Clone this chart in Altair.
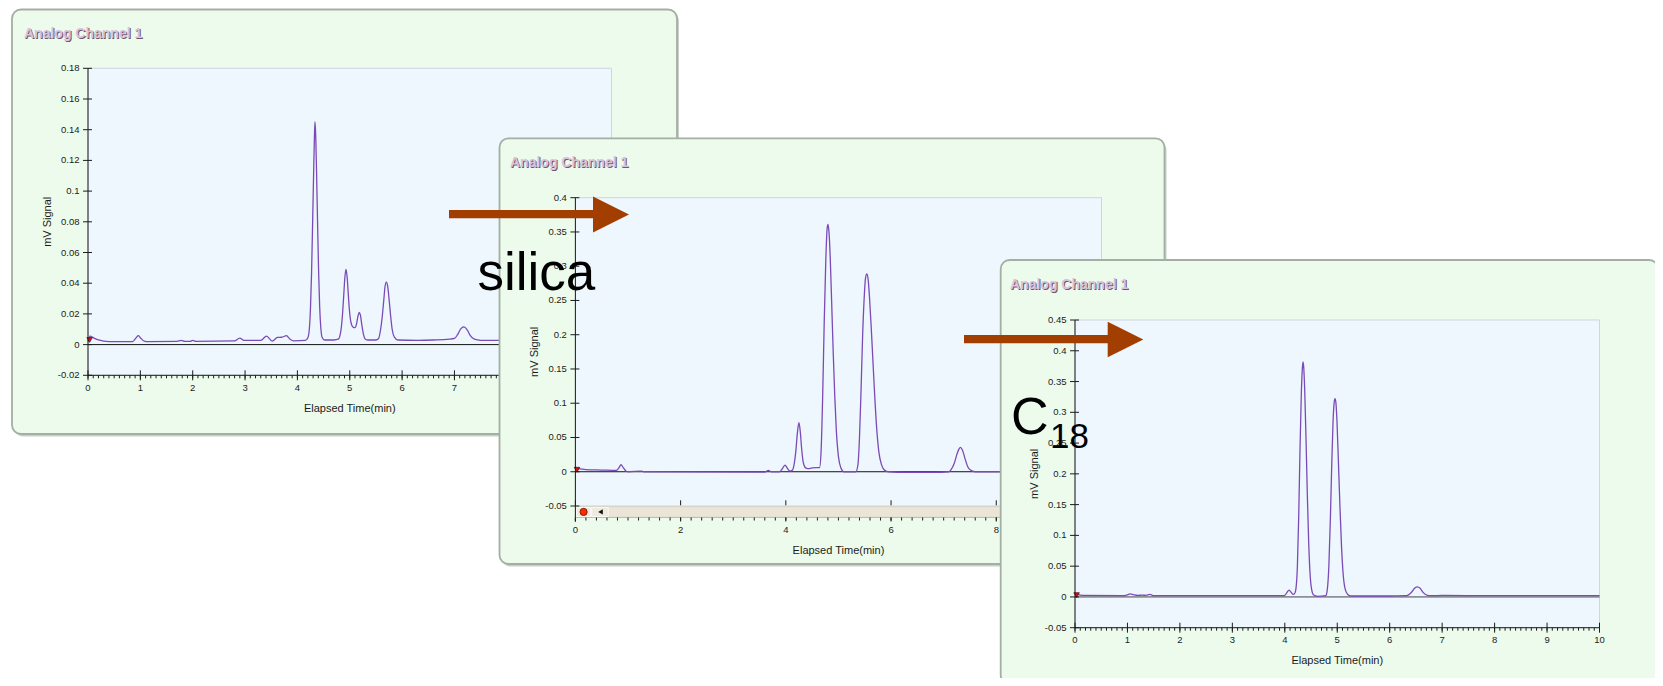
import altair as alt
import pandas as pd

# ---------------- values ----------------
# Panel 1 (top-left)
P1_TIME = [0.0, 0.04, 0.1, 0.2, 0.4, 0.85, 0.92, 0.96, 1.0, 1.06, 1.12, 1.7, 1.78, 1.85, 1.95,
           2.0, 2.06, 2.8, 2.9, 2.98, 3.3, 3.41, 3.52, 3.62, 3.7, 3.79, 3.86, 3.93, 4.15,
           4.2, 4.23, 4.25, 4.27, 4.29, 4.31, 4.325, 4.336, 4.35, 4.365, 4.385, 4.405, 4.425,
           4.445, 4.47, 4.52, 4.7, 4.78, 4.83, 4.86, 4.885, 4.905, 4.928, 4.95, 4.97, 4.99,
           5.02, 5.06, 5.1, 5.13, 5.16, 5.183, 5.205, 5.23, 5.26, 5.3, 5.35, 5.5, 5.55, 5.59,
           5.62, 5.65, 5.675, 5.699, 5.725, 5.75, 5.78, 5.81, 5.85, 5.92, 6.3, 6.6, 6.9, 7.0,
           7.06, 7.12, 7.18, 7.24, 7.3, 7.38, 7.5, 8.0]
P1_SIGNAL = [0.002, 0.0055, 0.0045, 0.003, 0.002, 0.002, 0.0045, 0.0058, 0.0045, 0.0025, 0.002,
             0.0021, 0.0027, 0.0021, 0.0021, 0.0027, 0.0021, 0.0024, 0.0042, 0.0027, 0.0027,
             0.0055, 0.0022, 0.0047, 0.0048, 0.0058, 0.0035, 0.0024, 0.0027,
             0.0045, 0.011, 0.024, 0.046, 0.078, 0.112, 0.135, 0.1452, 0.136, 0.114, 0.08,
             0.048, 0.025, 0.012, 0.005, 0.003, 0.003, 0.0035, 0.009, 0.019, 0.032, 0.043,
             0.049, 0.044, 0.034, 0.024, 0.015, 0.0115, 0.011, 0.0135, 0.019, 0.021, 0.019,
             0.013, 0.007, 0.0035, 0.003, 0.003, 0.004, 0.01, 0.018, 0.029, 0.038, 0.0407,
             0.038, 0.03, 0.019, 0.01, 0.005, 0.003, 0.0028, 0.003, 0.0035, 0.004, 0.0065,
             0.0102, 0.0116, 0.0098, 0.006, 0.0035, 0.0028, 0.0028]

# Panel 2 (silica)
P2_TIME = [0.0, 0.05, 0.2, 0.5, 0.78, 0.83, 0.866, 0.91, 0.96, 1.0, 1.25, 1.3, 3.6, 3.667, 3.72,
           3.88, 3.93, 3.983, 4.03, 4.075, 4.12, 4.16, 4.19, 4.22, 4.249, 4.275, 4.3, 4.33,
           4.37, 4.42, 4.5, 4.58, 4.64, 4.67, 4.7, 4.73, 4.76, 4.785, 4.8, 4.82, 4.845, 4.87,
           4.9, 4.93, 4.96, 5.0, 5.05, 5.1, 5.33, 5.37, 5.4, 5.43, 5.46, 5.49, 5.515, 5.541,
           5.565, 5.59, 5.62, 5.65, 5.69, 5.73, 5.77, 5.82, 5.88, 5.95, 6.3, 6.8, 7.1, 7.14,
           7.2, 7.25, 7.29, 7.32, 7.36, 7.41, 7.46, 7.52, 7.6, 8.5]
P2_SIGNAL = [0.004, 0.0045, 0.003, 0.0025, 0.002, 0.006, 0.0102, 0.006, 0.001, 0.0, 0.001, 0.0,
             -0.0005, 0.002, 0.0, 0.0, 0.004, 0.0098, 0.005, 0.001, 0.002, 0.012, 0.03, 0.057,
             0.0716, 0.058, 0.034, 0.014, 0.006, 0.0045, 0.0055, 0.006, 0.006, 0.03, 0.11,
             0.22, 0.31, 0.355, 0.361, 0.35, 0.31, 0.25, 0.175, 0.11, 0.06, 0.022, 0.005, 0.0,
             0.0, 0.01, 0.05, 0.12, 0.2, 0.255, 0.283, 0.2886, 0.28, 0.255, 0.215, 0.17, 0.11,
             0.06, 0.028, 0.01, 0.002, 0.0, -0.0008, -0.0008, 0.0, 0.003, 0.012, 0.025, 0.033,
             0.0356, 0.031, 0.018, 0.007, 0.002, 0.0, 0.0]

# Panel 3 (C18)
P3_TIME = [0.0, 0.05, 0.15, 0.9, 1.0, 1.05, 1.12, 1.2, 1.28, 1.35, 1.43, 1.5, 3.95, 4.0, 4.04,
           4.08, 4.12, 4.16, 4.19, 4.21, 4.24, 4.265, 4.29, 4.315, 4.335, 4.347, 4.36, 4.38,
           4.405, 4.43, 4.455, 4.48, 4.51, 4.55, 4.62, 4.78, 4.81, 4.84, 4.87, 4.895, 4.92,
           4.94, 4.957, 4.975, 4.995, 5.02, 5.05, 5.08, 5.11, 5.15, 5.2, 5.26, 6.0, 6.3, 6.35,
           6.42, 6.48, 6.527, 6.58, 6.64, 6.72, 6.8, 7.0, 8.0, 10.0]
P3_SIGNAL = [0.006, 0.004, 0.0025, 0.002, 0.0035, 0.005, 0.0035, 0.0025, 0.003, 0.0025, 0.004,
             0.002, 0.002, 0.0025, 0.007, 0.0109, 0.0075, 0.004, 0.006, 0.012, 0.05, 0.13, 0.24,
             0.33, 0.372, 0.382, 0.374, 0.335, 0.255, 0.165, 0.09, 0.04, 0.013, 0.003, 0.001,
             0.002, 0.012, 0.05, 0.13, 0.215, 0.285, 0.315, 0.3223, 0.315, 0.285, 0.225, 0.15,
             0.085, 0.04, 0.013, 0.004, 0.0015, 0.0015, 0.002, 0.003, 0.008, 0.0145, 0.0163,
             0.014, 0.007, 0.0025, 0.002, 0.0025, 0.002, 0.002]

# axis ticks and their labels
P1_Y_TICKS = [-0.02, 0, 0.02, 0.04, 0.06, 0.08, 0.1, 0.12, 0.14, 0.16, 0.18]
P1_Y_LABELS = ["-0.02", "0", "0.02", "0.04", "0.06", "0.08", "0.1", "0.12", "0.14", "0.16", "0.18"]
P2_Y_TICKS = [-0.05, 0, 0.05, 0.1, 0.15, 0.2, 0.25, 0.3, 0.35, 0.4]
P2_Y_LABELS = ["-0.05", "0", "0.05", "0.1", "0.15", "0.2", "0.25", "0.3", "0.35", "0.4"]
P3_Y_TICKS = [-0.05, 0, 0.05, 0.1, 0.15, 0.2, 0.25, 0.3, 0.35, 0.4, 0.45]
P3_Y_LABELS = ["-0.05", "0", "0.05", "0.1", "0.15", "0.2", "0.25", "0.3", "0.35", "0.4", "0.45"]
X_TICKS_1 = [0, 1, 2, 3, 4, 5, 6, 7, 8, 9, 10]
X_LABELS_1 = ["0", "1", "2", "3", "4", "5", "6", "7", "8", "9", "10"]
X_TICKS_2 = [0, 2, 4, 6, 8, 10]
X_LABELS_2 = ["0", "2", "4", "6", "8", "10"]
X_MINOR_01 = [round(i * 0.1, 1) for i in range(101)]
X_MINOR_02 = [round(i * 0.2, 1) for i in range(51)]

MARK_T = [0.03]
MARK_V = [0.003]

TITLE = "Analog Channel 1"
X_TITLE = "Elapsed Time(min)"
Y_TITLE = "mV Signal"

# ---------------- styling ----------------
W, H = 1647, 670
NARROW = "Liberation Sans Narrow, Arial Narrow, Liberation Sans, Arial, sans-serif"
SANS = "Liberation Sans, Arial, sans-serif"
INK = "#1c1c1c"
LINE = "#7a4bb7"
PANEL_FILL = "#ecfbec"
PLOT_FILL = "#eef6fe"
ARROW = "#a23e00"
LABEL_SIZE = 9.5


def one():
    return alt.Chart(pd.DataFrame({"k": [0]}))


def build_panel(time, signal, box, title_xy, xr, ydom, yr, y_ticks, y_labels, x_ticks, x_labels,
                x_minor, x_axis_y, inward, major_down, zero_color, clip=False,
                x_domain_color=INK, extra=()):
    bx0, by0, bx1, by1 = box
    xs = alt.Scale(domain=[0, 10], range=list(xr), nice=False, zero=False)
    ys = alt.Scale(domain=list(ydom), range=list(yr), nice=False, zero=False)
    X = lambda f: alt.X(f, scale=xs, axis=None)
    Y = lambda f: alt.Y(f, scale=ys, axis=None)
    ax = xr[0]

    shadow = one().mark_rect(cornerRadius=9, color="#98a098", opacity=0.5, clip=clip).encode(
        x=alt.value(bx0 + 2), x2=alt.value(bx1 + 2), y=alt.value(by0 + 2.5), y2=alt.value(by1 + 2.5))
    frame = one().mark_rect(cornerRadius=9, fill=PANEL_FILL, stroke="#a3afa3", strokeWidth=1.8,
                            clip=clip).encode(
        x=alt.value(bx0), x2=alt.value(bx1), y=alt.value(by0), y2=alt.value(by1))
    tx, ty = title_xy
    t_shadow = one().mark_text(text=TITLE, align="left", baseline="middle", font=NARROW,
                               fontSize=14, fontWeight="bold", color="#6c586c").encode(
        x=alt.value(tx + 1), y=alt.value(ty + 1))
    t_text = one().mark_text(text=TITLE, align="left", baseline="middle", font=NARROW,
                             fontSize=14, fontWeight="bold", color="#dbc2db").encode(
        x=alt.value(tx), y=alt.value(ty))

    lim = pd.DataFrame({"x0": [0], "x1": [10], "y0": [ydom[0]], "y1": [ydom[1]], "z": [0]})
    plot_bg = alt.Chart(lim).mark_rect(fill=PLOT_FILL, stroke="#cdd5e3", strokeWidth=1).encode(
        x=X("x0:Q"), x2="x1", y=Y("y0:Q"), y2="y1")
    zero = alt.Chart(lim).mark_rule(color=zero_color, strokeWidth=1).encode(
        y=Y("z:Q"), x=X("x0:Q"), x2="x1")

    line = alt.Chart(pd.DataFrame({"t": time, "v": signal})).mark_line(
        color=LINE, strokeWidth=1.3, interpolate="monotone").encode(x=X("t:Q"), y=Y("v:Q"))

    marker = alt.Chart(pd.DataFrame({"t": MARK_T, "v": MARK_V})).mark_point(
        shape="triangle-down", filled=True, fill="#e01010", stroke="#4a0000",
        strokeWidth=0.7, size=30, opacity=1).encode(x=X("t:Q"), y=Y("v:Q"))

    # y axis drawn from its tick arrays
    ydf = pd.DataFrame({"yt": y_ticks, "lab": y_labels})
    y_dom = alt.Chart(lim).mark_rule(color=INK).encode(
        x=alt.value(ax), y=Y("y0:Q"), y2="y1")
    y_tk = alt.Chart(ydf).mark_rule(color=INK).encode(
        y=Y("yt:Q"), x=alt.value(ax - 5), x2=alt.value(ax + 4))
    y_lb = alt.Chart(ydf).mark_text(align="right", baseline="middle", font=NARROW,
                                    fontSize=LABEL_SIZE, color=INK).encode(
        y=Y("yt:Q"), x=alt.value(ax - 8.5), text="lab:N")
    y_tt = one().mark_text(text=Y_TITLE, angle=270, align="center", baseline="middle",
                           font=SANS, fontSize=11, color=INK).encode(
        x=alt.value(ax - 40.5), y=alt.value((yr[0] + yr[1]) / 2))

    # x axis drawn from its tick arrays
    xdf = pd.DataFrame({"xt": x_ticks, "lab": x_labels})
    x_dom = alt.Chart(lim).mark_rule(color=x_domain_color).encode(
        y=alt.value(x_axis_y), x=X("x0:Q"), x2="x1")
    x_up = alt.Chart(xdf).mark_rule(color=INK).encode(
        x=X("xt:Q"), y=alt.value(inward[0]), y2=alt.value(inward[1]))
    x_dn = alt.Chart(xdf).mark_rule(color=INK).encode(
        x=X("xt:Q"), y=alt.value(x_axis_y), y2=alt.value(x_axis_y + major_down))
    x_mn = alt.Chart(pd.DataFrame({"xm": x_minor})).mark_rule(color=INK).encode(
        x=X("xm:Q"), y=alt.value(x_axis_y), y2=alt.value(x_axis_y + 3))
    x_lb = alt.Chart(xdf).mark_text(align="center", baseline="middle", font=NARROW,
                                    fontSize=LABEL_SIZE, color=INK).encode(
        x=X("xt:Q"), y=alt.value(x_axis_y + 12.7), text="lab:N")
    x_tt = one().mark_text(text=X_TITLE, align="center", baseline="middle",
                           font=SANS, fontSize=11, color=INK).encode(
        x=alt.value((xr[0] + xr[1]) / 2), y=alt.value(x_axis_y + 33.5))

    layers = ([shadow, frame, t_shadow, t_text, plot_bg] + list(extra) +
              [zero, line, marker, y_dom, y_tk, y_lb, y_tt, x_dom, x_up, x_dn, x_mn, x_lb, x_tt])
    return alt.layer(*layers)


# scrollbar decoration of panel 2 (sits between the plot and the time axis)
scroll = [
    one().mark_rect(fill="#ebe5d7", stroke="#d3ccbc", strokeWidth=0.8).encode(
        x=alt.value(567.4), x2=alt.value(1093.5), y=alt.value(498.7), y2=alt.value(509.3)),
    one().mark_rect(fill="#efeadf", stroke="#fbf9f3", strokeWidth=1).encode(
        x=alt.value(568.5), x2=alt.value(582.7), y=alt.value(499.5), y2=alt.value(508.5)),
    one().mark_rect(fill="#efeadf", stroke="#fbf9f3", strokeWidth=1).encode(
        x=alt.value(583.7), x2=alt.value(600.3), y=alt.value(499.5), y2=alt.value(508.5)),
    one().mark_point(shape="circle", filled=True, fill="#ff2a00", stroke="#6a1000",
                     strokeWidth=0.8, size=52, opacity=1).encode(
        x=alt.value(575.6), y=alt.value(503.9)),
    one().mark_point(shape="triangle-left", filled=True, fill="#111111", size=28, opacity=1).encode(
        x=alt.value(592.5), y=alt.value(503.9)),
    one().mark_rule(color=INK).encode(x=alt.value(567.4), y=alt.value(498), y2=alt.value(513.7)),
]

p1 = build_panel(P1_TIME, P1_SIGNAL, box=(4, 1.5, 669, 426), title_xy=(16, 26),
                 xr=(80, 603.5), ydom=(-0.02, 0.18), yr=(367.3, 60.3),
                 y_ticks=P1_Y_TICKS, y_labels=P1_Y_LABELS,
                 x_ticks=X_TICKS_1, x_labels=X_LABELS_1, x_minor=X_MINOR_01,
                 x_axis_y=367.3, inward=(362.3, 367.3), major_down=5, zero_color="#111111")
p2 = build_panel(P2_TIME, P2_SIGNAL, box=(491.5, 130.3, 1156.5, 556), title_xy=(502, 155),
                 xr=(567.4, 1093.5), ydom=(-0.05, 0.4), yr=(498, 189.7),
                 y_ticks=P2_Y_TICKS, y_labels=P2_Y_LABELS,
                 x_ticks=X_TICKS_2, x_labels=X_LABELS_2, x_minor=X_MINOR_02,
                 x_axis_y=509.5, inward=(492.3, 497.3), major_down=4, zero_color="#111111",
                 x_domain_color="#c5bdac", extra=scroll)
p3 = build_panel(P3_TIME, P3_SIGNAL, box=(992.7, 252, 1650, 676), title_xy=(1002, 277),
                 xr=(1067, 1591.5), ydom=(-0.05, 0.45), yr=(619.7, 312),
                 y_ticks=P3_Y_TICKS, y_labels=P3_Y_LABELS,
                 x_ticks=X_TICKS_1, x_labels=X_LABELS_1, x_minor=X_MINOR_01,
                 x_axis_y=619.7, inward=(614.7, 619.7), major_down=5, zero_color="#444444",
                 clip=True)

# annotations on top of everything
HEAD = "M-1,-1L1,0L-1,1Z"
notes = alt.layer(
    one().mark_rect(color=ARROW).encode(x=alt.value(441), x2=alt.value(587),
                                        y=alt.value(202), y2=alt.value(210.3)),
    one().mark_point(shape=HEAD, filled=True, color=ARROW, size=1296, opacity=1).encode(
        x=alt.value(603), y=alt.value(206.6)),
    one().mark_rect(color=ARROW).encode(x=alt.value(956), x2=alt.value(1102),
                                        y=alt.value(327), y2=alt.value(335.3)),
    one().mark_point(shape=HEAD, filled=True, color=ARROW, size=1267, opacity=1).encode(
        x=alt.value(1117.5), y=alt.value(331.5)),
    one().mark_text(text="silica", font=SANS, fontSize=53, align="left",
                    baseline="alphabetic", color="black").encode(x=alt.value(469.5), y=alt.value(282)),
    one().mark_text(text="C", font=SANS, fontSize=52, align="left",
                    baseline="alphabetic", color="black").encode(x=alt.value(1003), y=alt.value(426)),
    one().mark_text(text="18", font=SANS, fontSize=35, align="left",
                    baseline="alphabetic", color="black").encode(x=alt.value(1042), y=alt.value(440)),
)

chart = alt.layer(p1, p2, p3, notes).resolve_scale(
    x="independent", y="independent"
).properties(
    width=W, height=H, padding=0, background="white"
).configure_view(stroke=None)

chart.save("out.html", embed_options={"renderer": "svg", "actions": False})
